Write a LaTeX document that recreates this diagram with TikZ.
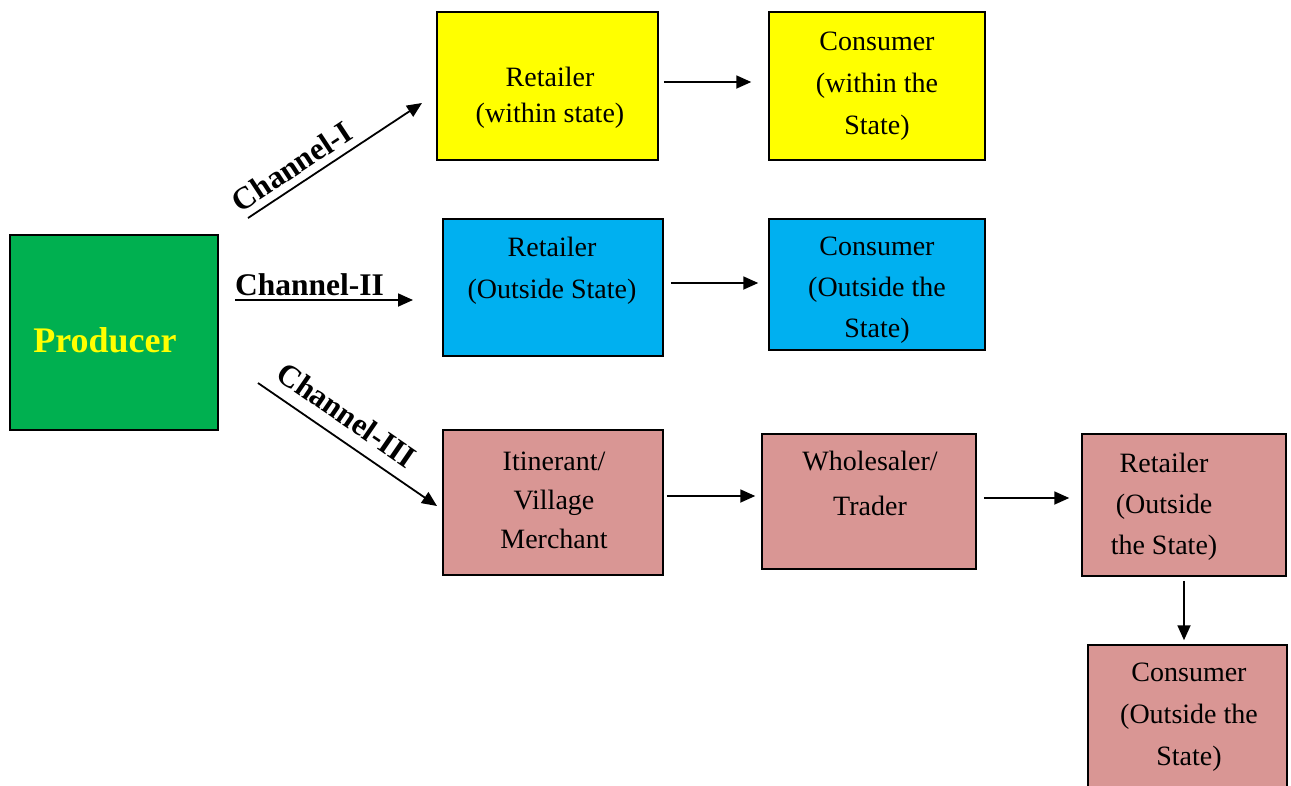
\documentclass[tikz,border=0pt]{standalone}
\usepackage{fontspec}
\setmainfont{Liberation Serif}
\usetikzlibrary{arrows.meta}
\definecolor{prodgreen}{RGB}{0,176,80}
\definecolor{boxyellow}{RGB}{255,255,0}
\definecolor{boxcyan}{RGB}{0,176,240}
\definecolor{boxpink}{RGB}{217,150,148}
\tikzset{
  box/.style={draw=black, line width=1.5pt, inner sep=0pt},
  boxtext/.style={align=center, inner sep=0pt, font=\fontsize{28}{41}\selectfont},
  chanlabel/.style={font=\fontsize{31.5}{34}\selectfont\bfseries, inner sep=2pt},
  arr/.style={line width=1.8pt, -{Triangle[length=15pt,width=13pt]}}
}
\begin{document}
\begin{tikzpicture}[x=1pt,y=-1pt]
\useasboundingbox (0,0) rectangle (1291,785);
\clip (0,0) rectangle (1291,785);
% boxes
\node[box, fill=prodgreen, minimum width=208pt, minimum height=195pt] (prod) at (114,332.5) {};
\node[box, fill=boxyellow, minimum width=221pt, minimum height=148pt] (r1) at (547.5,86) {};
\node[box, fill=boxyellow, minimum width=216pt, minimum height=148pt] (c1) at (877,86) {};
\node[box, fill=boxcyan, minimum width=220pt, minimum height=137pt] (r2) at (553,287.5) {};
\node[box, fill=boxcyan, minimum width=216pt, minimum height=131pt] (c2) at (877,284.5) {};
\node[box, fill=boxpink, minimum width=220pt, minimum height=145pt] (m) at (553,502.5) {};
\node[box, fill=boxpink, minimum width=214pt, minimum height=135pt] (w) at (869,501.5) {};
\node[box, fill=boxpink, minimum width=204pt, minimum height=142pt] (r3) at (1184,505) {};
\node[box, fill=boxpink, minimum width=199pt, minimum height=150pt] (c3) at (1187.5,720) {};
% texts
\node[font=\fontsize{36}{40}\selectfont\bfseries, text=boxyellow, inner sep=0pt] (prodt) at (105,340) {Producer};
\node[boxtext, font=\fontsize{28}{36}\selectfont] (r1t) at (550,98) {Retailer\\(within state)};
\node[boxtext, font=\fontsize{28}{42}\selectfont] (c1t) at (877,86) {Consumer\\(within the\\State)};
\node[boxtext, font=\fontsize{28}{42}\selectfont] (r2t) at (552,271) {Retailer\\(Outside State)};
\node[boxtext] (c2t) at (877,290) {Consumer\\(Outside the\\State)};
\node[boxtext, font=\fontsize{28}{39}\selectfont] (mt) at (554,500) {Itinerant/\\Village\\Merchant};
\node[boxtext, font=\fontsize{28}{45}\selectfont] (wt) at (870,483.5) {Wholesaler/\\Trader};
\node[boxtext] (r3t) at (1164,507) {Retailer\\(Outside\\the State)};
\node[boxtext, font=\fontsize{28}{42}\selectfont] (c3t) at (1189,717) {Consumer\\(Outside the\\State)};
% channel arrows
\coordinate (ch1s) at (248,218);
\coordinate (ch1e) at (422,103);
\coordinate (ch2s) at (235,300);
\coordinate (ch2e) at (413,300);
\coordinate (ch3s) at (258,383);
\coordinate (ch3e) at (437,506);
\draw[arr] (ch1s) -- node[chanlabel, sloped, pos=0.31, above=5pt] (ch1l) {Channel-I} (ch1e);
\draw[arr] (ch2s) -- (ch2e);
\node[chanlabel, anchor=base west, inner sep=0pt] (ch2l) at (235,295) {Channel-II};
\draw[arr] (ch3s) -- node[chanlabel, sloped, pos=0.42, above=10pt] (ch3l) {Channel-III} (ch3e);
% box-to-box arrows
\draw[arr, shorten <=5pt, shorten >=17pt] ([yshift=4pt]r1.east) -- ([yshift=4pt]r1.east -| c1.west);
\draw[arr, shorten <=7pt, shorten >=10pt] ([yshift=4.5pt]r2.east) -- ([yshift=4.5pt]r2.east -| c2.west);
\draw[arr, shorten <=3pt, shorten >=6pt] ([yshift=6.5pt]m.east) -- ([yshift=6.5pt]m.east -| w.west);
\draw[arr, shorten <=7pt, shorten >=12pt] ([yshift=3.5pt]w.east) -- ([yshift=3.5pt]w.east -| r3.west);
\draw[arr, shorten <=4pt, shorten >=4pt] (r3.south) -- (r3.south |- c3.north);
\end{tikzpicture}
\end{document}
